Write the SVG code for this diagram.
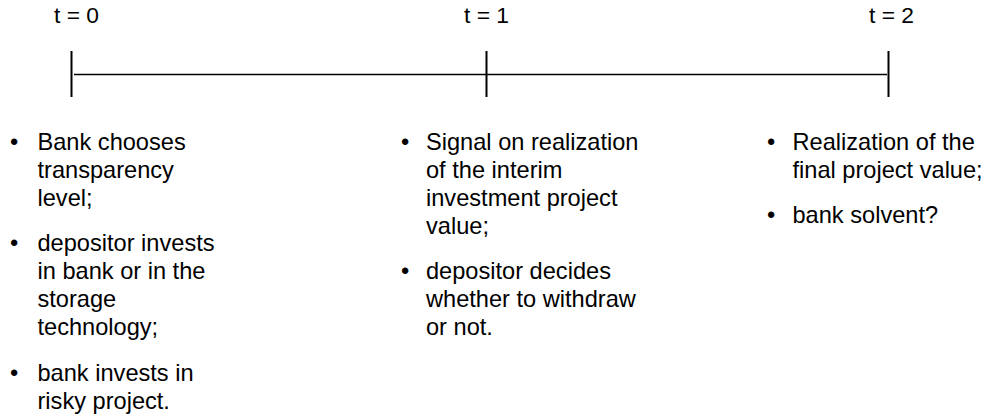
<svg xmlns="http://www.w3.org/2000/svg" width="987" height="419" viewBox="0 0 987 419">
<style>
text{font-family:"Liberation Sans",Arial,sans-serif;fill:#000}
.t{font-size:22.8px}
.b{font-size:23.6px}
.tick{stroke:#000;stroke-width:2}
.axis{stroke:#000;stroke-width:1.5}
</style>
<rect width="987" height="419" fill="#fff"/>
<g id="connectors">
<line class="axis" x1="74" y1="74.5" x2="887" y2="74.5"/>
</g>
<g id="t0">
<text class="t" x="54" y="23">t = 0</text>
<line class="tick" x1="71.5" y1="51" x2="71.5" y2="97"/>
<text class="b" x="10" y="150">•</text>
<text class="b" x="37.5" y="150">Bank chooses</text>
<text class="b" x="37.5" y="178">transparency</text>
<text class="b" x="37.5" y="206">level;</text>
<text class="b" x="10" y="251">•</text>
<text class="b" x="37.5" y="251">depositor invests</text>
<text class="b" x="37.5" y="279">in bank or in the</text>
<text class="b" x="37.5" y="307">storage</text>
<text class="b" x="37.5" y="335">technology;</text>
<text class="b" x="10" y="381">•</text>
<text class="b" x="37.5" y="381">bank invests in</text>
<text class="b" x="37.5" y="409">risky project.</text>
</g>
<g id="t1">
<text class="t" x="464" y="23">t = 1</text>
<line class="tick" x1="486.5" y1="51" x2="486.5" y2="97"/>
<text class="b" x="401" y="150">•</text>
<text class="b" x="426" y="150">Signal on realization</text>
<text class="b" x="426" y="178">of the interim</text>
<text class="b" x="426" y="206">investment project</text>
<text class="b" x="426" y="234">value;</text>
<text class="b" x="401" y="279">•</text>
<text class="b" x="426" y="279">depositor decides</text>
<text class="b" x="426" y="307">whether to withdraw</text>
<text class="b" x="426" y="335">or not.</text>
</g>
<g id="t2">
<text class="t" x="869" y="23">t = 2</text>
<line class="tick" x1="888.5" y1="51" x2="888.5" y2="97"/>
<text class="b" x="767" y="150">•</text>
<text class="b" x="792.5" y="150">Realization of the</text>
<text class="b" x="792.5" y="178">final project value;</text>
<text class="b" x="767" y="223">•</text>
<text class="b" x="792.5" y="223">bank solvent?</text>
</g>
</svg>
